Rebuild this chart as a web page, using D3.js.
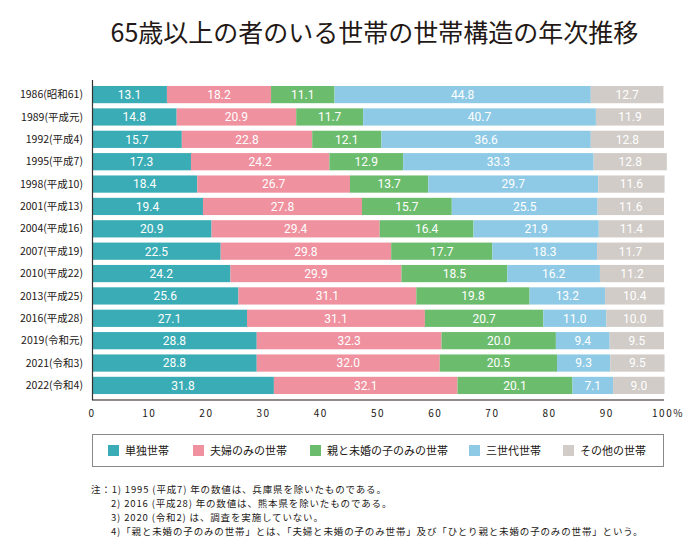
<!DOCTYPE html>
<html>
<head>
<meta charset="utf-8">
<script src="https://cdn.jsdelivr.net/npm/d3@7"></script>
<style>
  body { margin: 0; background: #fff; }
  svg text { font-family: "Noto Sans CJK JP", "Noto Sans", sans-serif; }
</style>
</head>
<body>
<div id="container"></div>
<script>
// data
let years = ["1986(昭和61)", "1989(平成元)", "1992(平成4)", "1995(平成7)", "1998(平成10)",
  "2001(平成13)", "2004(平成16)", "2007(平成19)", "2010(平成22)", "2013(平成25)",
  "2016(平成28)", "2019(令和元)", "2021(令和3)", "2022(令和4)"];
let seriesNames = ["単独世帯", "夫婦のみの世帯", "親と未婚の子のみの世帯", "三世代世帯", "その他の世帯"];
let single   = [13.1, 14.8, 15.7, 17.3, 18.4, 19.4, 20.9, 22.5, 24.2, 25.6, 27.1, 28.8, 28.8, 31.8];
let couple   = [18.2, 20.9, 22.8, 24.2, 26.7, 27.8, 29.4, 29.8, 29.9, 31.1, 31.1, 32.3, 32.0, 32.1];
let parentCh = [11.1, 11.7, 12.1, 12.9, 13.7, 15.7, 16.4, 17.7, 18.5, 19.8, 20.7, 20.0, 20.5, 20.1];
let threeGen = [44.8, 40.7, 36.6, 33.3, 29.7, 25.5, 21.9, 18.3, 16.2, 13.2, 11.0, 9.4, 9.3, 7.1];
let other    = [12.7, 11.9, 12.8, 12.8, 11.6, 11.6, 11.4, 11.7, 11.2, 10.4, 10.0, 9.5, 9.5, 9.0];
let xTicks = [0, 10, 20, 30, 40, 50, 60, 70, 80, 90, 100];
let colors = ["#3aacb5", "#ef919e", "#6cbc6e", "#8ecae6", "#d1ccc7"];
let notes = [
  "注：1) 1995 (平成7) 年の数値は、兵庫県を除いたものである。",
  "2) 2016 (平成28) 年の数値は、熊本県を除いたものである。",
  "3) 2020 (令和2) は、調査を実施していない。",
  "4)「親と未婚の子のみの世帯」とは、「夫婦と未婚の子のみ世帯」及び「ひとり親と未婚の子のみの世帯」という。"
];

let series = [single, couple, parentCh, threeGen, other];
let rows = years.map((y, i) => {
  let r = { year: y };
  seriesNames.forEach((s, k) => r[s] = series[k][i]);
  return r;
});
let stacked = d3.stack().keys(seriesNames)(rows);

let svg = d3.select("#container")
  .append("svg")
  .attr("width", 684)
  .attr("height", 558);

// title
svg.append("text")
  .attr("x", 374.5)
  .attr("y", 42)
  .attr("text-anchor", "middle")
  .attr("font-size", 25)
  .attr("fill", "#231815")
  .text("65歳以上の者のいる世帯の世帯構造の年次推移");

let x = d3.scaleLinear().domain([0, 100]).range([92, 664]);
let y = d3.scaleBand().domain(years).range([83.4, 396.6]).paddingInner(0.23).paddingOuter(0.115);
let color = d3.scaleOrdinal().domain(seriesNames).range(colors);

// bars
let layer = svg.selectAll("g.layer")
  .data(stacked)
  .enter()
  .append("g")
  .attr("class", "layer")
  .attr("fill", d => color(d.key));

layer.selectAll("rect")
  .data(d => d)
  .enter()
  .append("rect")
  .attr("x", d => x(d[0]))
  .attr("y", d => y(d.data.year))
  .attr("width", d => x(d[1]) - x(d[0]))
  .attr("height", y.bandwidth());

layer.selectAll("text")
  .data(d => d.map(v => ({ v: v, key: d.key })))
  .enter()
  .append("text")
  .attr("x", d => (x(d.v[0]) + x(d.v[1])) / 2)
  .attr("y", d => y(d.v.data.year) + y.bandwidth() / 2)
  .attr("dy", "0.36em")
  .attr("text-anchor", "middle")
  .attr("fill", "#fff")
  .style("font-family", "Roboto, sans-serif")
  .attr("font-size", 12)
  .text(d => d.v.data[d.key].toFixed(1));

// axes
svg.append("line")
  .attr("x1", 92.5).attr("x2", 92.5)
  .attr("y1", 80).attr("y2", 400)
  .attr("stroke", "#333").attr("stroke-width", 1.2);
svg.append("line")
  .attr("x1", 92).attr("x2", 664)
  .attr("y1", 400).attr("y2", 400)
  .attr("stroke", "#231815").attr("stroke-width", 1.2);

svg.selectAll("text.ylab")
  .data(years)
  .enter()
  .append("text")
  .attr("class", "ylab")
  .attr("x", 83)
  .attr("y", d => y(d) + y.bandwidth() / 2)
  .attr("dy", "0.35em")
  .attr("text-anchor", "end")
  .attr("font-size", 10.5)
  .attr("fill", "#231815")
  .text(d => d);

svg.selectAll("text.xlab")
  .data(xTicks)
  .enter()
  .append("text")
  .attr("class", "xlab")
  .attr("x", d => x(d) + (d === 100 ? 4 : 0))
  .attr("y", 413)
  .attr("dy", "0.35em")
  .attr("text-anchor", "middle")
  .attr("font-size", 10)
  .attr("letter-spacing", 1.5)
  .attr("fill", "#231815")
  .text(d => d === 100 ? "100%" : d);

// legend
svg.append("rect")
  .attr("x", 92.5).attr("y", 434.5)
  .attr("width", 571).attr("height", 32)
  .attr("fill", "none")
  .attr("stroke", "#888");

let legendX = [108, 193, 310, 469, 563];
let leg = svg.selectAll("g.leg")
  .data(seriesNames)
  .enter()
  .append("g")
  .attr("class", "leg")
  .attr("transform", (d, i) => `translate(${legendX[i]},451)`);
leg.append("rect")
  .attr("x", 0).attr("y", -6)
  .attr("width", 11).attr("height", 11)
  .attr("fill", d => color(d));
leg.append("text")
  .attr("x", 17)
  .attr("dy", "0.35em")
  .attr("font-size", 11)
  .attr("fill", "#231815")
  .text(d => d);

// notes
svg.selectAll("text.note")
  .data(notes)
  .enter()
  .append("text")
  .attr("class", "note")
  .attr("x", (d, i) => i === 0 ? 91 : 111)
  .attr("y", (d, i) => 490 + i * 14)
  .attr("dy", "0.35em")
  .attr("font-size", 9.5)
  .attr("letter-spacing", 0.85)
  .attr("fill", "#231815")
  .text(d => d);
</script>
</body>
</html>
